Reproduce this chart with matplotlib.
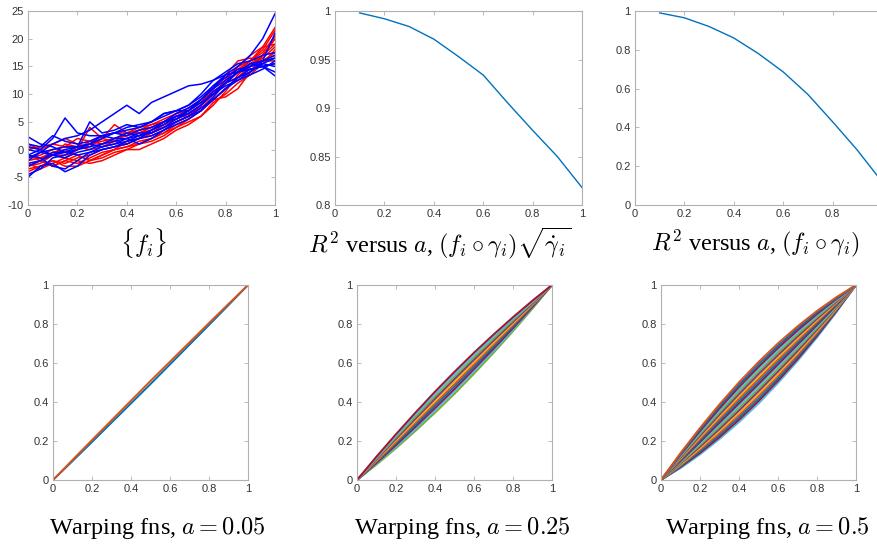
import numpy as np
import matplotlib
matplotlib.use("Agg")
import matplotlib.pyplot as plt
from matplotlib.ticker import FormatStrFormatter

plt.rcParams['font.family'] = ['Liberation Sans', 'DejaVu Sans']
plt.rcParams['mathtext.fontset'] = 'cm'

#data>>
# sample grid of the {f_i} curves
t21 = [0, 0.05, 0.1, 0.15, 0.2, 0.25, 0.3, 0.35, 0.4, 0.45, 0.5,
       0.55, 0.6, 0.65, 0.7, 0.75, 0.8, 0.85, 0.9, 0.95, 1.0]

red_curves = [
    [-4, -3, -2, -2.5, -1.5, -1, 0, 0.5, 1, 2, 3, 4, 5, 6, 8, 10, 12.5, 15, 16, 18, 21.5],
    [-3, -2, -3, -2, -1, -2, -1, 0, 0.5, 1.5, 2, 3, 4, 5.5, 7, 9, 9.5, 11, 14, 17, 20],
    [0.5, 0, 1, 0.5, 2, 1.5, 1, 2, 2.5, 3.5, 4.5, 5, 6.5, 7.5, 9, 11, 13, 14.5, 16, 18.5, 22],
    [-2, -1.5, -1, 1, 0.5, 0, 0.5, 1.5, 3, 3, 4, 5, 6, 6, 8, 10, 12.5, 15, 17, 18.5, 19],
    [-1, -2, -3, -2, -2.5, -1.5, -0.5, 0, 0.5, 1, 1.5, 2.5, 4, 5, 6, 8.5, 10, 12, 13.5, 15.5, 18],
    [-2.5, -3.5, -2.5, -1.5, 0, 4, 2, 1.5, 1, 2, 3, 4.5, 5.5, 6.5, 7.5, 9.5, 12, 14, 16, 17.5, 20.5],
    [0, 0.5, 1, 2, 1, 0.5, 2, 4.5, 3, 4, 4.5, 5.5, 6.5, 7, 8.5, 11, 13.5, 16, 16.5, 16, 17.5],
    [-1, -1.5, -0.5, 0, -1, -2, -1.5, -0.5, 0, 0, 1, 2, 3.5, 4.5, 6, 8, 10.5, 13.5, 15.5, 17, 19],
    [-3, -2.5, -1, -1.5, -2, -2.5, -2, -1, 0, 1, 2, 3, 4.5, 5.5, 7, 9, 11, 13, 15, 16, 16],
    [-1.5, -1, 0, 0.5, 0, 1, 1.5, 2, 2.5, 3, 3.5, 4.5, 5.5, 6.5, 8, 10, 12, 14, 15, 17, 20],
    [-3.5, -3, -2, -3, -3, -2, -1, 0, 1.5, 2, 2.5, 3.5, 5, 6, 7.5, 9, 11, 13, 15, 16.5, 18.5],
    [1, 0, -1, -1, 0, 1.5, 2.5, 3, 3, 3.5, 4, 5, 6, 7, 8.5, 10.5, 12, 13, 14, 16, 17],
]

blue_curves = [
    [-2, -0.5, 1, 2, 2.5, 3.5, 5, 6.5, 8, 6.5, 8.5, 9.5, 10.5, 11.5, 11.8, 12.5, 13.5, 14, 14.5, 15, 15.5],
    [0.5, 0, 2, 5.7, 3, 2.5, 2.5, 3, 2.5, 3.5, 4, 5, 5.5, 7, 8.5, 10, 12, 14, 15.5, 16, 16.5],
    [2.3, 1, 0.5, -0.5, 0, 1, 2, 3, 3.5, 4, 5, 6.5, 7, 8, 10, 12.5, 14, 15.5, 16, 17, 17.5],
    [-1, -1.5, -3, -3.5, -2, -0.5, 0.5, 1, 1.5, 2.5, 3.5, 5, 6, 7, 9, 11, 13.5, 15, 17, 20, 24.5],
    [-5, -3, -2.5, -4, -3, -1, 0, 0.5, 1, 2, 3.5, 5, 6.5, 7.5, 9, 11, 12.5, 14, 14.5, 15, 14],
    [-4.5, -3.5, -1.5, -1, 0, 0.5, 1, 1.5, 2, 2.5, 3, 4, 5, 6, 7, 9.5, 12, 14, 15.5, 15, 13.3],
    [0, -0.5, -1, -0.5, 0.5, 1, 2.5, 2, 3, 2.5, 3.5, 4.5, 6, 6.5, 8, 10, 11.5, 12.5, 14, 16, 21],
    [-1, 0, -1, -1.5, -0.5, 0, 1, 2, 2, 1, 2, 3.5, 5, 6, 7.5, 9, 11, 12.5, 13.5, 14.5, 16],
    [-2.5, -2, -1, 0, 0.5, 5, 3, 3.5, 4.5, 4, 5, 6.5, 7, 7, 9, 11.5, 13, 14.5, 15, 15.5, 16.5],
    [-3, -2, -0.5, -0.5, -1, -0.5, 0, 0.5, 1.5, 2, 2.5, 3.5, 4.5, 5.5, 7, 9, 11, 13, 14.5, 15, 15.5],
    [1, 0.5, 2.5, 1.5, 1, 1.5, 2.5, 3, 4, 4.5, 5, 6, 7, 8, 9.5, 11.5, 13.5, 14, 15, 16, 17],
    [-1.5, -0.5, 0, 0.5, 0.5, 1, 0.5, 1, 2, 3, 3, 4, 5.5, 6.5, 8, 10.5, 12, 13, 14, 15.5, 15],
]

# R^2 versus a
a_vals = [0.1, 0.2, 0.3, 0.4, 0.5, 0.6, 0.7, 0.8, 0.9, 1.0]
r2_sqrt = [0.998, 0.992, 0.984, 0.971, 0.953, 0.934, 0.905, 0.877, 0.850, 0.818]
r2_plain = [0.990, 0.965, 0.920, 0.861, 0.780, 0.686, 0.570, 0.429, 0.283, 0.120]

# warping functions, values at t = 0.1 .. 0.9 (gamma(0)=0, gamma(1)=1)
t11 = [0, 0.1, 0.2, 0.3, 0.4, 0.5, 0.6, 0.7, 0.8, 0.9, 1.0]
warp_005 = [
    [0.097, 0.195, 0.294, 0.393, 0.492, 0.593, 0.694, 0.795, 0.897],
    [0.103, 0.205, 0.306, 0.407, 0.508, 0.607, 0.706, 0.805, 0.903],
]
warp_025 = [
    [0.079, 0.163, 0.252, 0.345, 0.442, 0.545, 0.652, 0.763, 0.879],
    [0.084, 0.171, 0.262, 0.357, 0.455, 0.557, 0.662, 0.771, 0.884],
    [0.088, 0.179, 0.273, 0.369, 0.467, 0.569, 0.673, 0.779, 0.888],
    [0.093, 0.187, 0.283, 0.381, 0.480, 0.581, 0.683, 0.787, 0.893],
    [0.097, 0.195, 0.294, 0.393, 0.492, 0.593, 0.694, 0.795, 0.897],
    [0.102, 0.203, 0.304, 0.405, 0.505, 0.605, 0.704, 0.803, 0.902],
    [0.106, 0.211, 0.315, 0.417, 0.518, 0.617, 0.715, 0.811, 0.906],
    [0.111, 0.219, 0.325, 0.429, 0.530, 0.629, 0.725, 0.819, 0.911],
    [0.115, 0.227, 0.336, 0.441, 0.543, 0.641, 0.736, 0.827, 0.915],
    [0.120, 0.235, 0.346, 0.453, 0.555, 0.653, 0.746, 0.835, 0.920],
]
warp_05 = [
    [0.061, 0.131, 0.210, 0.297, 0.392, 0.497, 0.610, 0.731, 0.861],
    [0.066, 0.139, 0.220, 0.309, 0.405, 0.509, 0.620, 0.739, 0.866],
    [0.070, 0.147, 0.231, 0.321, 0.417, 0.521, 0.631, 0.747, 0.870],
    [0.075, 0.155, 0.241, 0.333, 0.430, 0.533, 0.641, 0.755, 0.875],
    [0.079, 0.163, 0.252, 0.345, 0.442, 0.545, 0.652, 0.763, 0.879],
    [0.084, 0.171, 0.262, 0.357, 0.455, 0.557, 0.662, 0.771, 0.884],
    [0.088, 0.179, 0.273, 0.369, 0.467, 0.569, 0.673, 0.779, 0.888],
    [0.093, 0.187, 0.283, 0.381, 0.480, 0.581, 0.683, 0.787, 0.893],
    [0.097, 0.195, 0.294, 0.393, 0.492, 0.593, 0.694, 0.795, 0.897],
    [0.102, 0.203, 0.304, 0.405, 0.505, 0.605, 0.704, 0.803, 0.902],
    [0.106, 0.211, 0.315, 0.417, 0.518, 0.617, 0.715, 0.811, 0.906],
    [0.111, 0.219, 0.325, 0.429, 0.530, 0.629, 0.725, 0.819, 0.911],
    [0.115, 0.227, 0.336, 0.441, 0.543, 0.641, 0.736, 0.827, 0.915],
    [0.120, 0.235, 0.346, 0.453, 0.555, 0.653, 0.746, 0.835, 0.920],
    [0.124, 0.243, 0.357, 0.465, 0.568, 0.665, 0.757, 0.843, 0.924],
    [0.129, 0.251, 0.367, 0.477, 0.580, 0.677, 0.767, 0.851, 0.929],
    [0.133, 0.259, 0.378, 0.489, 0.593, 0.689, 0.778, 0.859, 0.933],
    [0.138, 0.267, 0.388, 0.501, 0.605, 0.701, 0.788, 0.867, 0.938],
]

captions_top = [r'$\{f_i\}$',
                r'$R^2$ versus $a$, $(f_i \circ \gamma_i)\sqrt{\dot{\gamma}_i}$',
                r'$R^2$ versus $a$, $(f_i \circ \gamma_i)$']
captions_bottom = [r'Warping fns, $a = 0.05$',
                   r'Warping fns, $a = 0.25$',
                   r'Warping fns, $a = 0.5$']
#<<data

matlab_colors = ['#0072BD', '#D95319', '#EDB120', '#7E2F8E', '#77AC30', '#4DBEEE', '#A2142F']
W, H = 877.0, 551.0

fig = plt.figure(figsize=(8.77, 5.51), dpi=100)

def px_axes(x0, y0, x1, y1):
    # axes from pixel box (top-left origin)
    return fig.add_axes([x0 / W, 1 - y1 / H, (x1 - x0) / W, (y1 - y0) / H])

def style(ax, xlim, ylim, yticks, xlabels=None):
    ax.set_xlim(*xlim)
    ax.set_ylim(*ylim)
    ax.set_xticks([0, 0.2, 0.4, 0.6, 0.8, 1.0])
    if xlabels is not None:
        ax.set_xticklabels(xlabels)
    else:
        ax.xaxis.set_major_formatter(FormatStrFormatter('%g'))
    ax.set_yticks(yticks)
    ax.yaxis.set_major_formatter(FormatStrFormatter('%g'))
    ax.tick_params(direction='in', top=True, right=True, length=3, width=0.6,
                   color='#b0b0b0', labelcolor='#333333', labelsize=8, pad=3)
    for s in ax.spines.values():
        s.set_color('#b0b0b0')
        s.set_linewidth(0.8)

# top row
ax1 = px_axes(28, 11, 275, 205)
for c in red_curves:
    ax1.plot(t21, c, color='#ff0000', lw=1.1)
for c in blue_curves:
    ax1.plot(t21, c, color='#0000ff', lw=1.1)
style(ax1, (0, 1), (-10, 25), [-10, -5, 0, 5, 10, 15, 20, 25])

ax2 = px_axes(335, 11, 582, 205)
ax2.plot(a_vals, r2_sqrt, color=matlab_colors[0], lw=1.0)
style(ax2, (0, 1), (0.8, 1.0), [0.8, 0.85, 0.9, 0.95, 1.0])

# right panel runs past the picture edge, its last x label is not shown
ax3 = px_axes(635, 11, 882, 205)
ax3.plot(a_vals, r2_plain, color=matlab_colors[0], lw=1.0)
style(ax3, (0, 1), (0, 1), [0, 0.2, 0.4, 0.6, 0.8, 1.0],
      xlabels=['0', '0.2', '0.4', '0.6', '0.8', ''])

# bottom row
def warp_panel(box, curves, offset):
    ax = px_axes(*box)
    for i, c in enumerate(curves):
        ax.plot(t11, [0] + c + [1], color=matlab_colors[(i + offset) % 7], lw=1.4)
    style(ax, (0, 1), (0, 1), [0, 0.2, 0.4, 0.6, 0.8, 1.0])
    return ax

warp_panel((53, 285, 248, 480), warp_005, 0)
warp_panel((357, 285, 552, 480), warp_025, 4)
warp_panel((661, 285, 856, 480), warp_05, 5)

serif = ['Liberation Serif', 'DejaVu Serif']
for x, s in zip([143, 440, 755], captions_top):
    fig.text(x / W, 1 - 243 / H, s, ha='center', va='center', fontsize=17.5, family=serif)
for x, s in zip([157, 462, 767], captions_bottom):
    fig.text(x / W, 1 - 528 / H, s, ha='center', va='center', fontsize=17.5, family=serif)

fig.savefig('out.png', dpi=100)
